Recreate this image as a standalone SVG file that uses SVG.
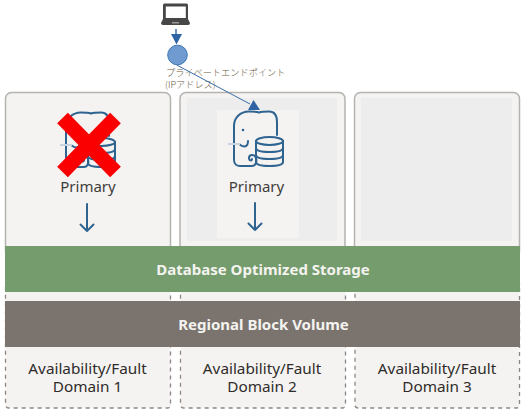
<svg xmlns="http://www.w3.org/2000/svg" width="524" height="413" viewBox="0 0 524 413">
<style>
.panel{fill:#f4f3f2;stroke:#b5b3b0;stroke-width:1.5}
.dash{fill:#f5f3f1;stroke:#8c8784;stroke-width:1.3;stroke-dasharray:4 4}
.ic{fill:none;stroke:#2f6390;stroke-width:2;stroke-linecap:round;stroke-linejoin:round}
.t{font-family:"Noto Sans","Open Sans",sans-serif;text-anchor:middle}
.p{font-size:15px;fill:#3f3d3b}
.d{font-size:15.3px;fill:#2e2c2a}
.b{font-size:15px;font-weight:700;fill:#f4f3f0}
.j{font-family:"Noto Sans CJK JP","Noto Sans",sans-serif;font-size:9.200px;font-weight:300;fill:#6a5a40}
.c{fill:none;stroke:#3a6ca8;stroke-width:1}
.h{fill:#2f63a3}
</style>
<defs>
<g id="elephant">
<path class="ic" d="M43 24 L43 11 C43 4 40 0.500 35 0.500 C31 0.500 28 0.500 25 1.500 C22 0.500 19 0.500 15 0.500 C6 0.500 0 7 0 15 L0 49 C0 53 3 55 6 55 L18 55 C22 55 23 50 22 47 C21 43 15 43 15 47 C15 50 18 50 18 48"/>
<path class="ic" d="M5 33 C10 37 14 36 14 30"/>
<path d="M-6 33 H6" stroke="#c8d4df" stroke-width="2" fill="none"/>
<circle cx="9" cy="19" r="1.300" fill="#2f6390"/>
<ellipse class="ic" cx="35.500" cy="30" rx="13.500" ry="4"/>
<path class="ic" d="M22 30 L22 51 C22 54 28 55 35.500 55 C43 55 49 54 49 51 L49 30"/>
<path class="ic" d="M22 37 C22 40 28 41 35.500 41 C43 41 49 40 49 37"/>
<path class="ic" d="M22 44 C22 47 28 48 35.500 48 C43 48 49 47 49 44"/>
</g>
<g id="arrow">
<path class="ic" d="M0 0 V27 M-6.500 20.500 L0 27 L6.500 20.500"/>
</g>
</defs>

<g id="domain-1">
<rect class="dash" x="5.500" y="280" width="165" height="128" rx="3"/>
<rect class="panel" x="5.500" y="92.500" width="165" height="165" rx="6"/>
<use href="#elephant" x="66" y="112"/>
<text class="t p" x="88" y="192">Primary</text>
<use href="#arrow" x="87" y="204"/>
<text class="t d" x="87.500" y="373.500">Availability/Fault</text>
<text class="t d" x="87.500" y="392">Domain 1</text>
</g>
<g id="failure-mark">
<path d="M62.500 118 L115.500 172 M115.500 118 L62.500 172" stroke="#fb0000" stroke-width="15" fill="none"/>
</g>

<g id="domain-2">
<rect class="dash" x="180.500" y="280" width="165" height="128" rx="3"/>
<rect class="panel" x="180" y="92.500" width="165" height="165" rx="6"/>
<rect x="187" y="98" width="150" height="143" fill="#ededed"/>
<rect x="217" y="110" width="82" height="128" fill="#f4f3f2"/>
<use href="#elephant" x="234" y="111"/>
<text class="t p" x="256.500" y="191.500">Primary</text>
<use href="#arrow" x="255" y="203"/>
<text class="t d" x="262" y="373.500">Availability/Fault</text>
<text class="t d" x="262" y="392">Domain 2</text>
</g>

<g id="domain-3">
<rect class="dash" x="355" y="280" width="164.500" height="128" rx="3"/>
<rect class="panel" x="354.500" y="92.500" width="165" height="165" rx="6"/>
<rect x="361" y="98" width="151" height="143" fill="#ededed"/>
<text class="t d" x="437" y="373.500">Availability/Fault</text>
<text class="t d" x="437" y="392">Domain 3</text>
</g>

<g id="storage">
<rect x="5" y="246" width="515" height="46" fill="#759c6c"/>
<text class="t b" x="263" y="275">Database Optimized Storage</text>
</g>
<g id="block-volume">
<rect x="5" y="301" width="515" height="46" fill="#7a736e"/>
<text class="t b" x="263.500" y="330">Regional Block Volume</text>
</g>

<g id="laptop">
<path d="M164.500 3.500 H186.500 Q188 3.500 188 5 V19 H163 V5 Q163 3.500 164.500 3.500 Z M165.800 6.500 V18 H185.800 V6.500 Z" fill="#474747" fill-rule="evenodd"/>
<path d="M163 19 H188 L190 23 Q190 25 188 25 H163 Q161 25 161 23 Z" fill="#474747"/>
<rect x="172" y="22" width="7" height="1.500" fill="#9a9a9a"/>
</g>
<g id="endpoint">
<circle cx="177.500" cy="55" r="9.800" fill="#6f9bd1" stroke="#3f76b4" stroke-width="1"/>
<text class="j" x="166" y="76">プライベートエンドポイント</text>
<text class="j" x="165" y="88">(IPアドレス)</text>
</g>
<g id="connectors">
<path class="c" d="M176 29 V36" style="stroke-width:1.500"/>
<path class="h" d="M171 34 H182 L176.500 44.500 Z"/>
<path class="c" d="M176.700 65 L250 104"/>
<path class="h" d="M253.500 100 L260 110 H248 Z"/>
</g>
</svg>
